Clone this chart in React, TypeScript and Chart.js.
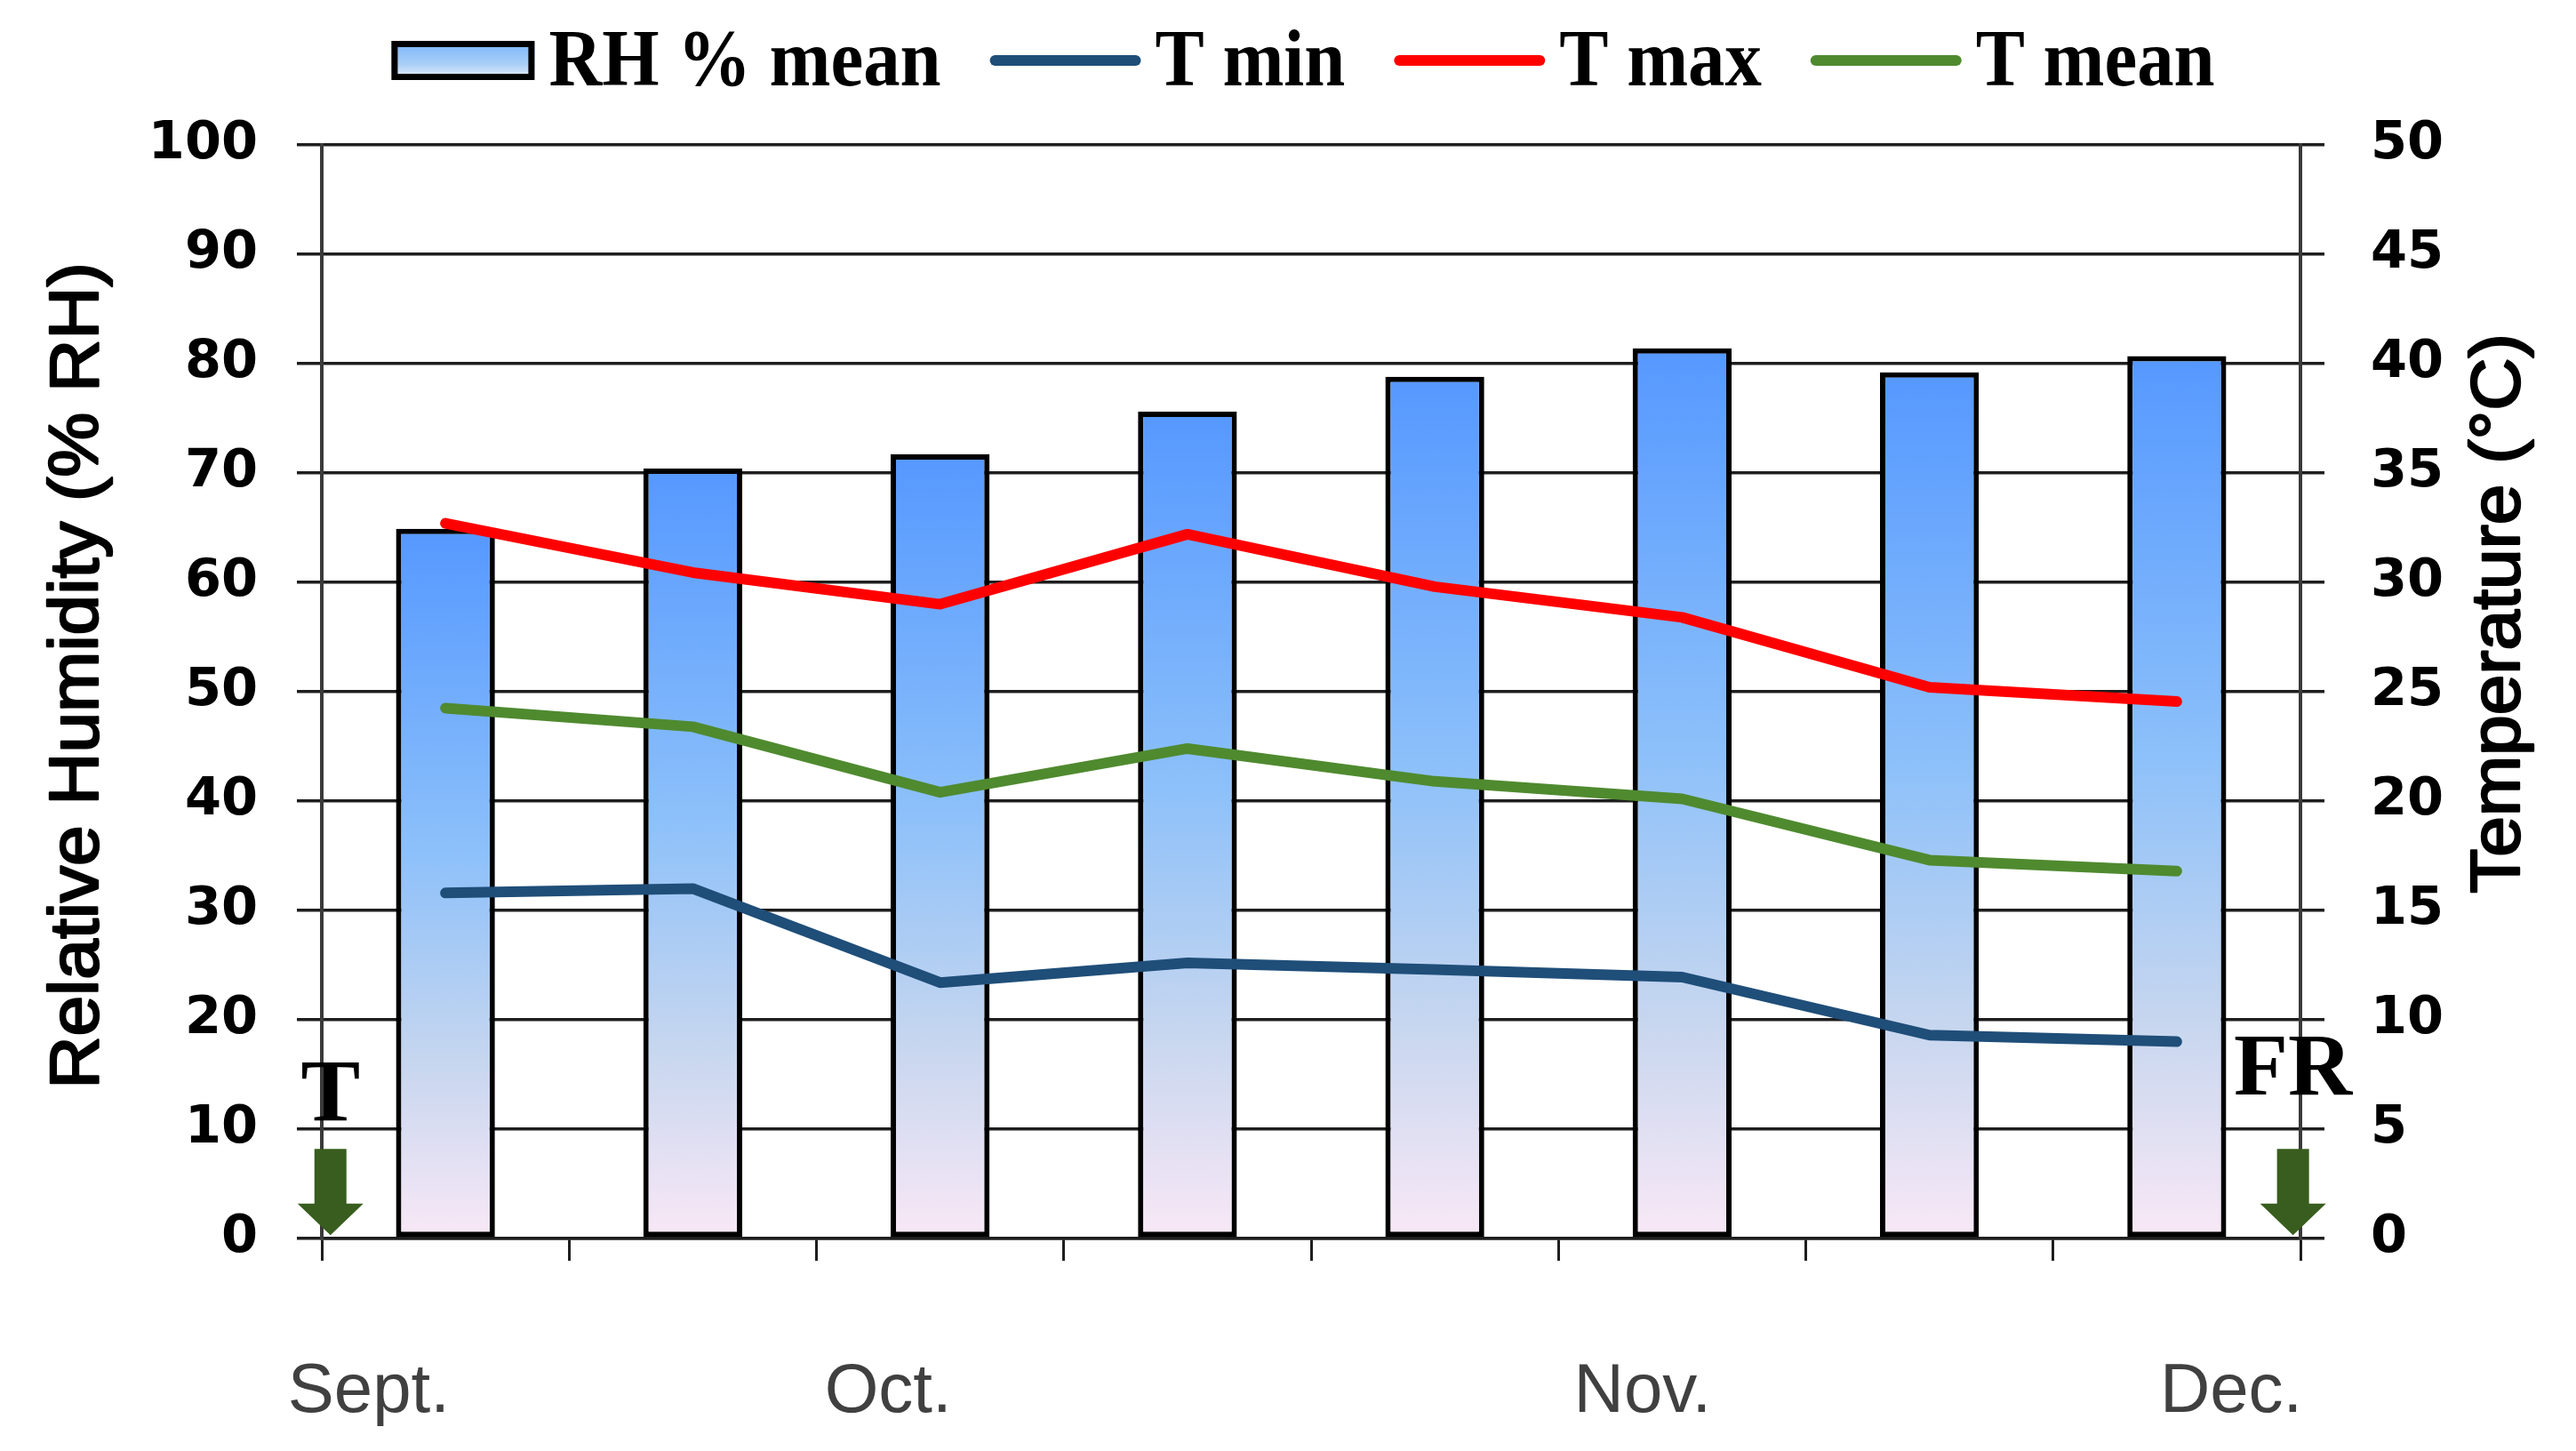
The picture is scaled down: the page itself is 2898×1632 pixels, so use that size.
import React, { useEffect, useRef } from 'react';
import { Chart, registerables } from 'chart.js';

Chart.register(...registerables);

// ---------- data ----------
const periods = ['P1', 'P2', 'P3', 'P4', 'P5', 'P6', 'P7', 'P8'];
const rhMean = [64.9, 70.4, 71.7, 75.6, 78.8, 81.4, 79.2, 80.7];
const tMin = [15.8, 16.0, 11.7, 12.6, 12.3, 11.95, 9.3, 9.0];
const tMax = [32.7, 30.45, 29.0, 32.2, 29.8, 28.4, 25.2, 24.55];
const tMean = [24.25, 23.4, 20.4, 22.4, 20.9, 20.1, 17.3, 16.8];

const monthLabels = ['Sept.', 'Oct.', 'Nov.', 'Dec.'];
const monthPositions = [-0.31, 1.79, 4.84, 7.22]; // in category-index units

const markerLabels = ['T', 'FR'];
const markerPositions = [-0.465, 7.47]; // category-index units
const markerTextTemps = [5.4, 6.6]; // baseline, in °C (right axis)
const arrowTopTemp = 4.1;
const arrowHeadTemp = 1.6;
const arrowTipTemp = 0.15;

const rhAxisTitle = 'Relative Humidity (% RH)';
const tempAxisTitle = 'Temperature (°C)';

// ---------- styles ----------
const GRID = '#1e1e1e';
const C_TMIN = '#1f4e79';
const C_TMAX = '#ff0000';
const C_TMEAN = '#4f8a2f';
const ARROW = '#385d1e';

function barGradient(c: CanvasRenderingContext2D, top: number, bottom: number) {
  const g = c.createLinearGradient(0, top, 0, bottom);
  g.addColorStop(0, '#5598ff');
  g.addColorStop(0.45, '#8cc0fa');
  g.addColorStop(0.75, '#c6d6ef');
  g.addColorStop(1, '#f9e8f6');
  return g;
}

function drawThickText(ctx: CanvasRenderingContext2D, text: string, x: number, y: number, extra: number) {
  ctx.fillText(text, x, y);
  if (extra > 0) {
    ctx.lineWidth = extra;
    ctx.strokeStyle = ctx.fillStyle as string;
    ctx.lineJoin = 'round';
    ctx.strokeText(text, x, y);
  }
}

const overlayPlugin = {
  id: 'overlay',
  afterDraw(chart: any) {
    const ctx: CanvasRenderingContext2D = chart.ctx;
    const x = chart.scales.x;
    const y1 = chart.scales.y1;
    const area = chart.chartArea;
    ctx.save();

    // month labels
    ctx.font = '78px "Liberation Sans", Arial, sans-serif';
    ctx.fillStyle = '#404040';
    ctx.textAlign = 'center';
    ctx.textBaseline = 'alphabetic';
    monthLabels.forEach((m, i) => {
      ctx.fillText(m, x.getPixelForValue(monthPositions[i]), area.bottom + 195);
    });

    // markers T / FR with arrows
    ctx.font = 'bold 100px "Liberation Serif", "Times New Roman", serif';
    markerLabels.forEach((m, i) => {
      const px = x.getPixelForValue(markerPositions[i]);
      ctx.fillStyle = '#000';
      ctx.fillText(m, px, y1.getPixelForValue(markerTextTemps[i]));
      const yTop = y1.getPixelForValue(arrowTopTemp);
      const yHead = y1.getPixelForValue(arrowHeadTemp);
      const yTip = y1.getPixelForValue(arrowTipTemp);
      const sw = 18, hw = 37;
      ctx.fillStyle = ARROW;
      ctx.beginPath();
      ctx.moveTo(px - sw, yTop);
      ctx.lineTo(px + sw, yTop);
      ctx.lineTo(px + sw, yHead);
      ctx.lineTo(px + hw, yHead);
      ctx.lineTo(px, yTip);
      ctx.lineTo(px - hw, yHead);
      ctx.lineTo(px - sw, yHead);
      ctx.closePath();
      ctx.fill();
    });

    // axis titles
    ctx.font = '82px "Liberation Sans", Arial, sans-serif';
    ctx.fillStyle = '#000';
    ctx.textAlign = 'center';
    ctx.textBaseline = 'middle';
    ctx.save();
    ctx.translate(88, 760);
    ctx.rotate(-Math.PI / 2);
    ctx.scale(1, 0.96);
    drawThickText(ctx, rhAxisTitle, 0, 0, 2.5);
    ctx.restore();
    ctx.save();
    ctx.translate(2812, 690);
    ctx.rotate(-Math.PI / 2);
    ctx.scale(1, 0.96);
    drawThickText(ctx, tempAxisTitle, 0, 0, 2.5);
    ctx.restore();

    // legend
    const sx = 0.94;
    ctx.font = 'bold 88px "Liberation Serif", "Times New Roman", serif';
    ctx.textAlign = 'left';
    ctx.textBaseline = 'alphabetic';
    const ds = chart.data.datasets;
    const symW = ds.map((d: any) => (d.type === 'bar' ? 161 : 170));
    const widths = ds.map((d: any) => ctx.measureText(d.label).width * sx);
    const gapSym = 16, gapItem = 55;
    let total = 0;
    ds.forEach((_: any, i: number) => { total += symW[i] + gapSym + widths[i]; });
    total += gapItem * (ds.length - 1);
    let cx = 1466 - total / 2;
    const cy = 68;
    ds.forEach((d: any, i: number) => {
      if (d.type === 'bar') {
        const top = cy - 22, h = 44;
        const g = ctx.createLinearGradient(0, top, 0, top + h);
        g.addColorStop(0, '#78b4fb');
        g.addColorStop(0.6, '#a9cff7');
        g.addColorStop(1, '#f2f0fa');
        ctx.fillStyle = g;
        ctx.fillRect(cx, top, symW[i], h);
        ctx.lineWidth = 7;
        ctx.strokeStyle = '#000';
        ctx.strokeRect(cx + 3.5, top + 3.5, symW[i] - 7, h - 7);
      } else {
        ctx.strokeStyle = d.borderColor;
        ctx.lineWidth = 12;
        ctx.lineCap = 'round';
        ctx.beginPath();
        ctx.moveTo(cx + 6, cy);
        ctx.lineTo(cx + symW[i] - 6, cy);
        ctx.stroke();
      }
      cx += symW[i] + gapSym;
      ctx.save();
      ctx.translate(cx, 96);
      ctx.scale(sx, 1.04);
      ctx.fillStyle = '#000';
      ctx.fillText(d.label, 0, 0);
      ctx.restore();
      cx += widths[i] + gapItem;
    });

    ctx.restore();
  },
};

const tickFont = { family: '"DejaVu Sans", Verdana, sans-serif', weight: 'bold' as const, size: 59 };

function lineDataset(label: string, data: number[], color: string, order: number) {
  return {
    type: 'line',
    label,
    data,
    yAxisID: 'y1',
    order,
    borderColor: color,
    backgroundColor: color,
    borderWidth: 12,
    pointRadius: 0,
    tension: 0,
    borderJoinStyle: 'round',
    borderCapStyle: 'round',
  } as any;
}

export default function App() {
  const ref = useRef<HTMLCanvasElement>(null);
  useEffect(() => {
    document.body.style.margin = '0';
    document.body.style.overflow = 'hidden';
    const chart = new Chart(ref.current as HTMLCanvasElement, {
      type: 'bar',
      data: {
        labels: periods,
        datasets: [
          {
            type: 'bar',
            label: 'RH % mean',
            data: rhMean,
            yAxisID: 'y',
            order: 5,
            borderColor: '#000',
            borderWidth: 6,
            borderSkipped: false,
            categoryPercentage: 1,
            barPercentage: 0.4,
            backgroundColor: (c: any) => {
              const chart = c.chart;
              if (c.type !== 'data' || !chart.chartArea) return '#7fb5fb';
              const ys = chart.scales.y;
              const v = c.parsed ? c.parsed.y : c.raw;
              return barGradient(chart.ctx, ys.getPixelForValue(v), ys.getPixelForValue(0));
            },
          } as any,
          lineDataset('T min', tMin, C_TMIN, 1),
          lineDataset('T max', tMax, C_TMAX, 2),
          lineDataset('T mean', tMean, C_TMEAN, 3),
        ],
      },
      options: {
        responsive: false,
        devicePixelRatio: 1,
        animation: false,
        layout: { padding: { top: 163, left: 0, right: 0, bottom: 0 } },
        plugins: {
          legend: { display: false },
          tooltip: { enabled: false },
          title: { display: false },
        },
        scales: {
          x: {
            type: 'category',
            offset: true,
            grid: {
              offset: true,
              drawOnChartArea: false,
              drawTicks: true,
              tickLength: 25,
              color: GRID,
              lineWidth: 3,
            },
            border: { display: true, color: GRID, width: 3.5 },
            ticks: { display: false },
            afterFit: (s: any) => { s.height = 239; },
          },
          y: {
            type: 'linear',
            position: 'left',
            min: 0,
            max: 100,
            ticks: { stepSize: 10, font: tickFont, color: '#000', padding: 44 },
            grid: { color: GRID, lineWidth: 3.5, tickLength: 28, drawTicks: true },
            border: { display: true, color: '#3a3a3a', width: 4 },
            afterFit: (s: any) => { s.width = 362; },
          },
          y1: {
            type: 'linear',
            position: 'right',
            min: 0,
            max: 50,
            ticks: { stepSize: 5, font: tickFont, color: '#000', padding: 52 },
            grid: { drawOnChartArea: false, color: GRID, lineWidth: 3.5, tickLength: 27, drawTicks: true },
            border: { display: true, color: '#3a3a3a', width: 4 },
            afterFit: (s: any) => { s.width = 310; },
          },
        },
      } as any,
      plugins: [overlayPlugin],
    });
    return () => chart.destroy();
  }, []);
  return (
    <canvas
      ref={ref}
      width={2898}
      height={1632}
      style={{ display: 'block', width: '2898px', height: '1632px' }}
    />
  );
}
